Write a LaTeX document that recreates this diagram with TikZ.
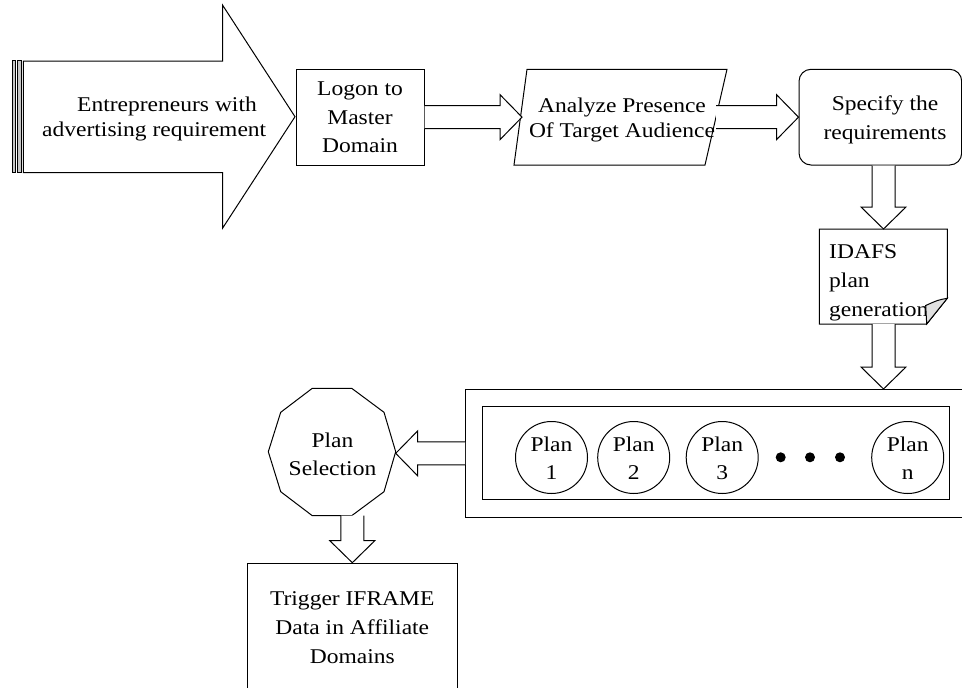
\documentclass[tikz,border=0pt]{standalone}
\usepackage{fontspec}
\setmainfont{Liberation Serif}[FakeStretch=1.12]
\usetikzlibrary{calc}
\newcommand{\sr}{\rule[-5pt]{0pt}{20pt}}
\newcommand{\fs}[1]{\fontsize{21}{#1}\selectfont}
\tikzset{
  shp/.style={draw, line width=1pt, fill=white, inner sep=0pt, line join=miter},
  txt/.style={inner sep=0pt, align=center, font=\fs{28}},
  blockarrow/.style={draw, fill=white, line width=1pt, line join=miter},
  stripe/.style={draw, line width=0.7pt, fill=black!22},
}
\newcommand{\arrR}[2]{\path[blockarrow] let \p1=(#1),\p2=(#2) in
  ({\x1},{\y1+11.5pt}) -- ({\x2-22pt},{\y1+11.5pt}) -- ({\x2-22pt},{\y1+22.5pt}) -- ({\x2},{\y1})
  -- ({\x2-22pt},{\y1-22.5pt}) -- ({\x2-22pt},{\y1-11.5pt}) -- ({\x1},{\y1-11.5pt});}
\newcommand{\arrL}[2]{\path[blockarrow] let \p1=(#1),\p2=(#2) in
  ({\x1},{\y1+11.5pt}) -- ({\x2+22pt},{\y1+11.5pt}) -- ({\x2+22pt},{\y1+22.5pt}) -- ({\x2},{\y1})
  -- ({\x2+22pt},{\y1-22.5pt}) -- ({\x2+22pt},{\y1-11.5pt}) -- ({\x1},{\y1-11.5pt});}
\newcommand{\arrD}[2]{\path[blockarrow] let \p1=(#1),\p2=(#2) in
  ({\x1-11.5pt},{\y1}) -- ({\x1-11.5pt},{\y2+22pt}) -- ({\x1-22.5pt},{\y2+22pt}) -- ({\x1},{\y2})
  -- ({\x1+22.5pt},{\y2+22pt}) -- ({\x1+11.5pt},{\y2+22pt}) -- ({\x1+11.5pt},{\y1});}
\begin{document}
\begin{tikzpicture}[x=1pt,y=-1pt]
\useasboundingbox (0,0) rectangle (962,688);
\clip (0,0) rectangle (962,688);

% ---- big entry arrow
\draw[stripe] (11.9,60.5) rectangle (15.5,172.5);
\draw[stripe] (17.1,60.5) rectangle (21.1,172.5);
\draw[shp] (23.3,61) -- (222.5,61) -- (222.5,5) -- (295,116.7) -- (222.5,228.3) -- (222.5,172.5) -- (23.3,172.5) -- cycle;

% ---- shapes
\node[shp, minimum width=128, minimum height=95.7] (logon) at (360,117.15) {};
\draw[shp] (514,165) -- (527,69.3) -- (727,69.3) -- (705,165) -- cycle;
\coordinate (anaL) at (522,117.15);
\coordinate (anaR) at (716,117.15);
\node[shp, rounded corners=12, minimum width=162.7, minimum height=95.7] (spec) at (880.35,117.15) {};

\draw[shp] (819.3,229) -- (947.3,229) -- (947.3,298.3) -- (926.7,324) -- (819.3,324) -- cycle;
\coordinate (idafsTop) at (883.5,229);
\coordinate (idafsBot) at (883.5,324);

\node[shp, line width=1.2pt, minimum width=515, minimum height=127.5, anchor=north west] (plans) at (465,389) {};
\node[shp, minimum width=467, minimum height=93.4, anchor=north west] (inner) at (482.3,405.8) {};
\node[shp, circle, minimum size=72] (p1) at (551.5,457.5) {};
\node[shp, circle, minimum size=72] (p2) at (633.7,457.5) {};
\node[shp, circle, minimum size=72] (p3) at (722.2,457.5) {};
\node[shp, circle, minimum size=72] (pn) at (907.7,457.5) {};
\node[circle, fill=black, inner sep=0pt, minimum size=10] (d1) at (780.7,457.3) {};
\node[circle, fill=black, inner sep=0pt, minimum size=10] (d2) at (810,457.3) {};
\node[circle, fill=black, inner sep=0pt, minimum size=10] (d3) at (840,457.3) {};

\draw[shp] (312.3,388.3) -- (351.7,388.3) -- (384,412.3) -- (395.7,451.7) -- (384,491.7) -- (351.7,515.7)
  -- (312.3,515.7) -- (280.7,491.7) -- (268.3,451.7) -- (280.7,412.3) -- cycle;
\coordinate (selE) at (395.7,452.75);
\coordinate (selB) at (352.3,515.7);

\node[shp, minimum width=210, minimum height=140, anchor=north west] (trig) at (247.3,562.7) {};

% ---- block arrows
\arrR{logon.east}{anaL}
\arrR{anaR}{spec.west}
\arrD{spec.south -| idafsTop}{idafsTop}
\arrD{idafsBot}{idafsBot |- plans.north}
\arrL{plans.west}{selE}
\arrD{selB}{selB |- trig.north}

% ---- texts
\node[txt, align=left, anchor=west, font=\fs{25.7}] (entT) at (42,118.85)
  {\hspace*{35pt}\sr Entrepreneurs with\\\sr advertising requirement};
\node[txt, font=\fs{28.5}] (logonT) at (360,119.35) {\sr Logon to\\\sr Master\\\sr Domain};
\node[txt, font=\fs{25}] (anaT) at (622,119.5) {\sr Analyze Presence\\\sr Of Target Audience};
\node[txt, font=\fs{29}] (specT) at (885,119.5) {\sr Specify the\\\sr requirements};
\node[txt, align=left, anchor=west, font=\fs{29}] (idafsT) at (829,282) {\sr IDAFS\\\sr plan\\\sr generation};
\draw[line width=1pt, fill=black!12, line join=miter] (947.3,298.3) .. controls (938,300) .. (925.7,305.5)
  .. controls (926.5,314) .. (926.7,324) -- cycle;
\node[txt, font=\fs{27.3}] (p1T) at (551.5,460.35) {\sr Plan\\\sr 1};
\node[txt, font=\fs{27.3}] (p2T) at (633.7,460.35) {\sr Plan\\\sr 2};
\node[txt, font=\fs{27.3}] (p3T) at (722.2,460.35) {\sr Plan\\\sr 3};
\node[txt, font=\fs{27.3}] (pnT) at (907.7,460.35) {\sr Plan\\\sr n};
\node[txt, font=\fs{27.7}] (selT) at (332.5,456.2) {\sr Plan\\\sr Selection};
\node[txt, font=\fs{29}] (trigT) at (352.3,629.15) {\sr Trigger IFRAME\\\sr Data in Affiliate\\\sr Domains};
\end{tikzpicture}
\end{document}
